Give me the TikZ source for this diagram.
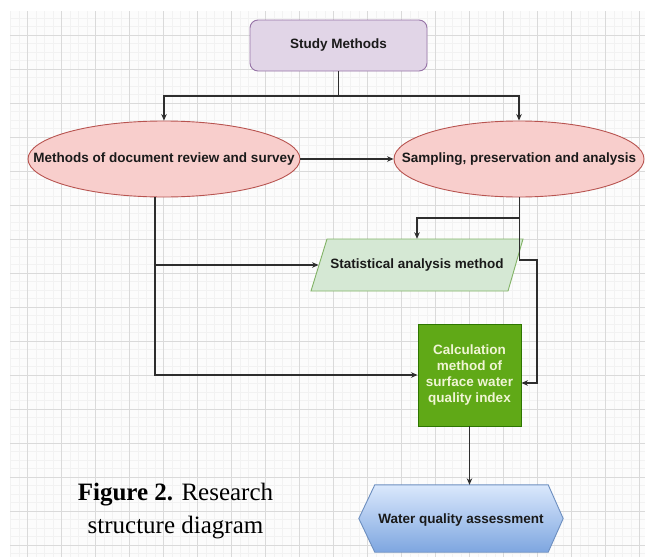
\documentclass[tikz,border=0pt]{standalone}
\usepackage{fontspec}
\setmainfont{Liberation Serif}
\newfontfamily\diafont{Liberation Sans}
\usetikzlibrary{arrows.meta,calc,shapes.geometric}

\definecolor{gridbg}{HTML}{FCFCFC}
\definecolor{gridminor}{HTML}{F2F2F2}
\definecolor{gridmajor}{HTML}{DADADA}
\definecolor{smfill}{HTML}{E1D5E7}
\definecolor{smline}{HTML}{9673A6}
\definecolor{redfill}{HTML}{F8CECC}
\definecolor{redline}{HTML}{B85450}
\definecolor{greenfill}{HTML}{D5E8D4}
\definecolor{greenline}{HTML}{82B366}
\definecolor{calcfill}{HTML}{60A917}
\definecolor{calcline}{HTML}{2D7600}
\definecolor{calctext}{HTML}{F0F5D5}
\definecolor{bluetop}{HTML}{DAE8FC}
\definecolor{bluebot}{HTML}{7EA6E0}
\definecolor{blueline}{HTML}{6C8EBF}
\definecolor{linecol}{HTML}{2E2E2E}
\definecolor{txtdark}{HTML}{1A1A1A}

\tikzset{
  lbl/.style={font=\diafont\bfseries\fontsize{13.5}{16.5}\selectfont,
    text=txtdark, align=center, inner sep=0pt},
  conn/.style={draw=linecol, line width=1.1pt},
  arr/.style={conn, -{Stealth[length=6.5pt,width=5.5pt]}},
  shapeline/.style={line width=0.9pt},
}

\begin{document}
\begin{tikzpicture}[x=1pt,y=-1pt]
\useasboundingbox (0,0) rectangle (645,557);
\fill[white] (0,0) rectangle (645,557);

% background grid
\fill[gridbg] (10,11) rectangle (645,557);
\foreach \i [evaluate=\i as \gx using 10.5+8.5*\i] in {0,...,74}
  \draw[gridminor, line width=0.6pt] (\gx,11) -- (\gx,557);
\foreach \i [evaluate=\i as \gy using 9.5+8.5*\i] in {1,...,64}
  \draw[gridminor, line width=0.6pt] (10,\gy) -- (645,\gy);
\foreach \i [evaluate=\i as \gx using 27.5+34*\i] in {0,...,18}
  \draw[gridmajor, line width=0.8pt] (\gx,11) -- (\gx,557);
\foreach \i [evaluate=\i as \gy using 35+34*\i] in {0,...,15}
  \draw[gridmajor, line width=0.8pt] (10,\gy) -- (645,\gy);

% study methods
\node[lbl, rectangle, rounded corners=8pt, draw=smline, fill=smfill, shapeline,
      minimum width=177pt, minimum height=51pt] (sm) at (338.5,45.5) {Study Methods};

% the two method ellipses
\node[ellipse, draw=redline, fill=redfill, shapeline, inner sep=0pt,
      minimum width=272pt, minimum height=76pt] (docs) at (164,159) {};
\node[lbl] (docs-t) at (docs.center) {Methods of document review and survey};
\node[ellipse, draw=redline, fill=redfill, shapeline, inner sep=0pt,
      minimum width=250pt, minimum height=76pt] (samp) at (519,159) {};
\node[lbl] (samp-t) at (samp.center) {Sampling, preservation and analysis};

% statistical analysis (parallelogram)
\path[draw=greenline, fill=greenfill, shapeline]
  (311,291) -- (327,239) -- (523,239) -- (508,291) -- cycle;
\node[lbl, minimum width=196.5pt, minimum height=52pt] (stat) at (417,265)
  {Statistical analysis method};

% water quality index calculation
\node[lbl, rectangle, draw=calcline, fill=calcfill, shapeline, text=calctext,
      minimum width=103pt, minimum height=102pt,
      font=\diafont\bfseries\fontsize{13.5}{16.3}\selectfont] (calc) at (469.5,375)
  {Calculation\\method of\\surface water\\quality index};

% assessment (hexagon)
\node[minimum width=204pt, minimum height=67pt, inner sep=0pt] (wqa) at (461,518.5) {};
\shade[top color=bluetop, bottom color=bluebot, draw=blueline, shapeline]
  (wqa.west) -- ($(wqa.north west)+(16,0)$) -- ($(wqa.north east)+(-15,0)$)
  -- (wqa.east) -- ($(wqa.south east)+(-15,0)$) -- ($(wqa.south west)+(16,0)$) -- cycle;
\node[lbl] (wqa-t) at ($(wqa.center)+(0,1.5)$) {Water quality assessment};

% caption
\node[font=\fontsize{25}{33}\selectfont, align=center, inner sep=0pt, text=black]
  (cap) at (175.5,511.5) {\textbf{Figure 2.} Research\\structure diagram};

% connectors
\coordinate (split) at (338.5,96);
\draw[conn] (sm.south) -- (split);
\draw[arr] (split) -| (docs.north);
\draw[arr] (split) -| (samp.north);
\draw[arr] (docs.east) -- (samp.west);

\coordinate (sampout) at (519.5,197);
\draw[arr] (sampout) -- (519.5,218) -| (stat.north);
\draw[arr] (sampout) -- (519.5,260) -- (537,260) |- ($(calc.east)+(0,8)$);

\coordinate (docsout) at (155,197);
\draw[arr] (docsout) |- (stat.west);
\draw[arr] (docsout) |- (calc.west);

\draw[arr] (calc.south) -- (calc.south |- wqa.north);
\end{tikzpicture}
\end{document}
